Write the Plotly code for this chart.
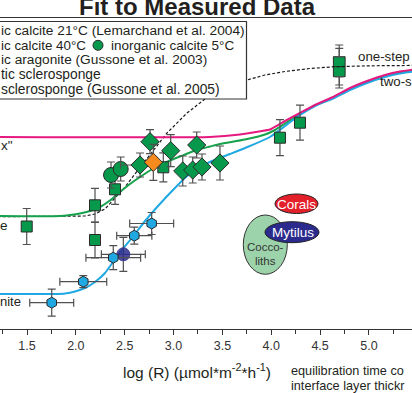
import plotly.graph_objects as go

# ---------------- data (log R on x, fractionation in arbitrary units on y) ----------------
# model curves
dash_x = [1.20, 1.991, 2.094, 2.196, 2.298, 2.401, 2.503, 2.605, 2.759, 2.933, 3.138, 3.322,
          3.527, 3.752, 3.936, 4.141, 4.397, 4.653, 5.011, 5.50]
dash_y = [1.123, 1.123, 1.13, 1.15, 1.20, 1.31, 1.42, 1.55, 1.74, 1.96, 2.16, 2.30,
          2.40, 2.49, 2.54, 2.575, 2.605, 2.623, 2.632, 2.636]

green_x = [1.20, 1.838, 1.940, 2.042, 2.145, 2.247, 2.349, 2.452, 2.554, 2.657, 2.759, 2.861,
           2.964, 3.066, 3.168, 3.271, 3.373, 3.475, 3.731, 3.936, 4.038, 4.141, 4.294, 4.448,
           4.632, 4.806, 4.980, 5.164, 5.318, 5.50]
green_y = [1.13, 1.13, 1.14, 1.155, 1.18, 1.22, 1.285, 1.37, 1.45, 1.52, 1.585, 1.64,
           1.685, 1.725, 1.765, 1.80, 1.825, 1.85, 1.895, 1.945, 1.99, 2.055, 2.15, 2.235,
           2.315, 2.40, 2.47, 2.53, 2.565, 2.59]

blue_x = [1.20, 1.787, 1.889, 1.991, 2.094, 2.196, 2.298, 2.380, 2.472, 2.585, 2.708, 2.841,
          2.994, 3.127, 3.271, 3.393, 3.578, 3.782, 3.987, 4.141, 4.294, 4.448, 4.632, 4.806,
          4.980, 5.164, 5.318, 5.50]
blue_y = [0.35, 0.35, 0.355, 0.375, 0.41, 0.47, 0.56, 0.67, 0.79, 0.925, 1.08, 1.23,
          1.39, 1.52, 1.62, 1.68, 1.75, 1.83, 1.92, 2.03, 2.14, 2.23, 2.305, 2.39,
          2.46, 2.52, 2.555, 2.58]

pink_x = [1.20, 3.373, 3.680, 3.905, 3.987, 4.141, 4.294, 4.448, 4.632, 4.806, 4.980, 5.164,
          5.318, 5.50]
pink_y = [1.92, 1.92, 1.945, 1.98, 1.995, 2.08, 2.16, 2.24, 2.32, 2.41, 2.48, 2.54,
          2.575, 2.60]

# measured data
sq_x = [1.497, 2.196, 2.196, 2.401, 2.895, 4.089, 4.294]
sq_y = [1.025, 1.237, 0.89, 1.397, 1.617, 1.913, 2.063]
sq_err = [0.18, 0.17, 0.18, 0.15, 0.145, 0.18, 0.175]

box_x = [4.696]
box_q1 = [2.523]
box_med = [2.623]
box_q3 = [2.723]
box_hi = [2.84, 2.807]
box_lo = [2.41, 2.44]

circ_x = [2.36, 2.459]
circ_y = [1.54, 1.60]
circ_err = [0.13, 0.12]

dia_x = [2.759, 2.971, 3.237, 2.657, 3.094, 3.196, 3.291, 3.475]
dia_y = [1.873, 1.783, 1.84, 1.64, 1.58, 1.59, 1.62, 1.66]
dia_err = [0.12, 0.16, 0.13, 0.12, 0.15, 0.13, 0.13, 0.17]
dia_xerr = [0, 0, 0, 0.2, 0, 0, 0, 0]

org_x = [2.793]
org_y = [1.667]
org_err = [0.18]

hex_x = [2.776, 2.598, 2.383, 2.076, 1.753]
hex_y = [1.055, 0.933, 0.713, 0.473, 0.263]
hex_xerr = [0.225, 0.18, 0.28, 0.24, 0.225]
hex_yerr = [0.11, 0.085, 0.12, 0.06, 0.135]

navy_x = [2.486]
navy_y = [0.747]
navy_xerr = [0.225]
navy_yerr = [0.17]

tick_vals = [1.5, 2.0, 2.5, 3.0, 3.5, 4.0, 4.5, 5.0, 5.5]
tick_text = ["1.5", "2.0", "2.5", "3.0", "3.5", "4.0", "4.5", "5.0", "5.5"]

# ---------------- styling ----------------
FONT = "Liberation Sans, Arial, Helvetica, sans-serif"
GREEN = "#07994b"
GREEN_LINE = "#16a24c"
BLUE = "#1fa8e2"
PINK = "#e5197f"
ORANGE = "#f58b1f"
NAVY = "#2b2b8e"
EDGE = "#2a2a2a"
ERR = "#505050"

W, H = 412, 393
MT, MB = 18, 64
PH = H - MT - MB


def xp(px):
    return px / W


def yp(py):
    return (H - MB - py) / PH


def ebar(arr, **kw):
    d = dict(type="data", array=arr, visible=True, color=ERR, thickness=1.2, width=4)
    d.update(kw)
    return d


fig = go.Figure()

# model curves
fig.add_trace(go.Scatter(x=dash_x, y=dash_y, mode="lines",
                         line=dict(color="#1a1a1a", width=1.2, dash="3px,2px")))
fig.add_trace(go.Scatter(x=green_x, y=green_y, mode="lines",
                         line=dict(color=GREEN_LINE, width=2, shape="spline", smoothing=0.6)))
fig.add_trace(go.Scatter(x=blue_x, y=blue_y, mode="lines",
                         line=dict(color=BLUE, width=2, shape="spline", smoothing=0.6)))
fig.add_trace(go.Scatter(x=pink_x, y=pink_y, mode="lines",
                         line=dict(color=PINK, width=2, shape="spline", smoothing=0.4)))

# box for the high-rate sample
fig.add_trace(go.Box(x=box_x, q1=box_q1, median=box_med, q3=box_q3,
                     lowerfence=box_q1, upperfence=box_q3, width=0.12,
                     fillcolor=GREEN, line=dict(color=EDGE, width=1),
                     boxpoints=False, whiskerwidth=0))
for hi, lo in zip(box_hi, box_lo):
    fig.add_trace(go.Scatter(x=box_x, y=box_q3, mode="markers",
                             marker=dict(size=1, color="rgba(0,0,0,0)"),
                             error_y=ebar([hi - box_q3[0]], symmetric=False, arrayminus=[0])))
    fig.add_trace(go.Scatter(x=box_x, y=box_q1, mode="markers",
                             marker=dict(size=1, color="rgba(0,0,0,0)"),
                             error_y=ebar([0], symmetric=False, arrayminus=[box_q1[0] - lo])))

# squares
fig.add_trace(go.Scatter(x=sq_x, y=sq_y, mode="markers",
                         marker=dict(symbol="square", size=11, color=GREEN,
                                     line=dict(color=EDGE, width=1)),
                         error_y=ebar(sq_err)))
# circles
fig.add_trace(go.Scatter(x=circ_x, y=circ_y, mode="markers",
                         marker=dict(symbol="circle", size=15, color=GREEN,
                                     line=dict(color=EDGE, width=1)),
                         error_y=ebar(circ_err)))
# diamonds
fig.add_trace(go.Scatter(x=dia_x, y=dia_y, mode="markers",
                         marker=dict(symbol="diamond", size=14, color=GREEN,
                                     line=dict(color=EDGE, width=1)),
                         error_y=ebar(dia_err), error_x=ebar(dia_xerr)))
fig.add_trace(go.Scatter(x=org_x, y=org_y, mode="markers",
                         marker=dict(symbol="diamond", size=14, color=ORANGE,
                                     line=dict(color=EDGE, width=1)),
                         error_y=ebar(org_err)))
# navy circle and blue hexagons
fig.add_trace(go.Scatter(x=navy_x, y=navy_y, mode="markers",
                         marker=dict(symbol="circle", size=13, color=NAVY, opacity=0.85,
                                     line=dict(color=NAVY, width=1)),
                         error_y=ebar(navy_yerr), error_x=ebar(navy_xerr)))
fig.add_trace(go.Scatter(x=hex_x, y=hex_y, mode="markers",
                         marker=dict(symbol="hexagon", size=11, color=BLUE,
                                     line=dict(color=EDGE, width=1)),
                         error_y=ebar(hex_yerr), error_x=ebar(hex_xerr)))

shapes = [
    # legend box
    dict(type="rect", xref="paper", yref="paper", x0=-0.1, x1=xp(246.5), y0=yp(99), y1=yp(21.5),
         fillcolor="white", line=dict(color="#333333", width=1.2), layer="above"),
    dict(type="circle", xref="paper", yref="paper", x0=xp(93), x1=xp(103), y0=yp(50.3), y1=yp(40.3),
         fillcolor=GREEN, line=dict(color=EDGE, width=1), layer="above"),
    # organism ellipses
    dict(type="circle", xref="paper", yref="paper", x0=xp(243.3), x1=xp(287.3), y0=yp(274.3), y1=yp(215),
         fillcolor="#9dd3ab", line=dict(color="#333333", width=1), layer="above"),
    dict(type="circle", xref="paper", yref="paper", x0=xp(265), x1=xp(319), y0=yp(242.7), y1=yp(221.7),
         fillcolor=NAVY, line=dict(color="#222222", width=1), layer="above"),
    dict(type="circle", xref="paper", yref="paper", x0=xp(275), x1=xp(318), y0=yp(213.5), y1=yp(194),
         fillcolor="#e3202a", line=dict(color="#222222", width=1), layer="above"),
]

TXT = "#231f20"


def ann(text, x, y, size=13.5, xanchor="left", color=TXT, bold=False):
    return dict(text=text, x=xp(x), y=yp(y), xref="paper", yref="paper", showarrow=False,
                xanchor=xanchor, yanchor="middle", borderpad=0, borderwidth=0,
                font=dict(family=FONT, size=size, color=color,
                          weight="bold" if bold else "normal"))


annotations = [
    ann("Fit to Measured Data", 197.5, 7.0, size=24, xanchor="center", bold=True),
    ann("ic calcite 21°C (Lemarchand et al. 2004)", 0.5, 30.7, size=13.7),
    ann("ic calcite 40°C", 0.5, 45.3, size=13.4),
    ann("inorganic calcite 5°C", 111, 45.3, size=13.5),
    ann("ic aragonite (Gussone et al. 2003)", 0.5, 59.9, size=13.7),
    ann("tic sclerosponge", 0.5, 74.5, size=13.8),
    ann("sclerosponge (Gussone et al. 2005)", 0.5, 89.1, size=13.8),
    ann("one-step", 358.3, 56.7, size=13.3),
    ann("two-s", 411.5, 81.7, size=13.3, xanchor="right"),
    ann("x\"", 0.5, 145),
    ann("e", 0.0, 225),
    ann("nite", 0.0, 301.7, size=13.0),
    ann("Corals", 296.7, 204, size=13.5, xanchor="center", color="white"),
    ann("Mytilus", 293.3, 232.3, size=13.5, xanchor="center", color="white"),
    ann("Cocco-", 265, 246.7, size=11.5, xanchor="center", color="#333333"),
    ann("liths", 265.7, 260.7, size=11.5, xanchor="center", color="#333333"),
    ann("log (R) (µmol*m<sup>-2</sup>*h<sup>-1</sup>)", 197, 371, size=15.5, xanchor="center"),
    ann("equilibration time co", 291, 370.6, size=12.7),
    ann("interface layer thickr", 291, 385.8, size=12.7),
]

fig.update_layout(
    width=W, height=H,
    margin=dict(l=0, r=0, t=MT, b=MB, pad=0),
    paper_bgcolor="white", plot_bgcolor="white",
    showlegend=False,
    shapes=shapes, annotations=annotations,
    font=dict(family=FONT, color=TXT, size=13),
    xaxis=dict(type="linear", range=[1.2236, 5.4406], tickvals=tick_vals, ticktext=tick_text,
               ticks="outside", ticklen=5, tickwidth=1, tickcolor="#333333",
               showline=True, linecolor="#333333", linewidth=1, mirror=True,
               showgrid=False, zeroline=False,
               tickfont=dict(family=FONT, size=12.5, color="#333333"),
               minor=dict(ticks="outside", ticklen=4, tickwidth=1, tickcolor="#333333",
                          tick0=1.25, dtick=0.25, showgrid=False)),
    yaxis=dict(range=[0, 3.11], visible=False, showgrid=False, zeroline=False),
)

fig.write_html("out.html")
